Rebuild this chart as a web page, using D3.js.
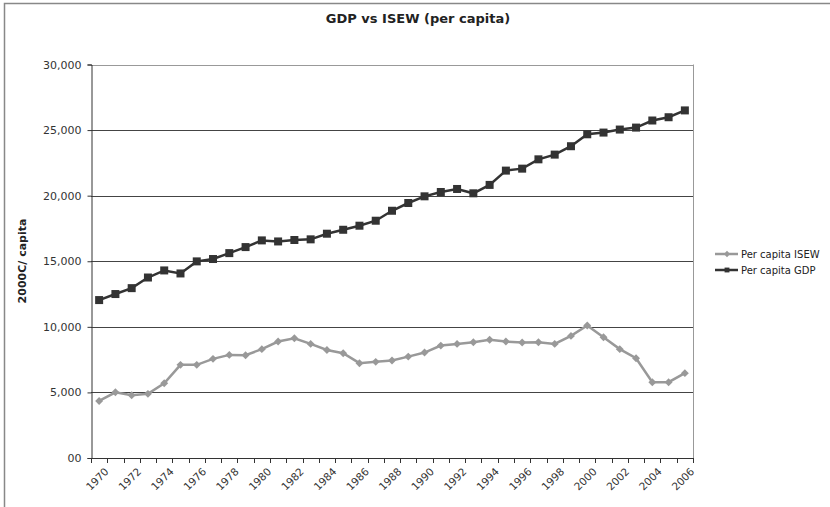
<!DOCTYPE html>
<html>
<head>
<meta charset="utf-8">
<script src="https://cdn.jsdelivr.net/npm/d3@7"></script>
<style>
  body { margin: 0; background: #fff; }
  text { font-family: "DejaVu Sans", Verdana, sans-serif; }
</style>
</head>
<body>
<div id="canvas"></div>
<script>
/*
Years on the category axis */
var years = d3.range(1970, 2007);
/*
Per capita GDP (2000C) */
var gdp = [12040, 12500, 12950, 13760, 14300, 14070, 14990, 15170, 15620, 16080,
           16590, 16510, 16620, 16670, 17100, 17400, 17710, 18090, 18850, 19440,
           19950, 20280, 20510, 20180, 20820, 21910, 22060, 22770, 23130, 23770,
           24680, 24810, 25040, 25190, 25730, 25980, 26500];
/*
Per capita ISEW (2000C) */
var isew = [4350, 5010, 4780, 4890, 5700, 7100, 7100, 7560, 7860, 7840,
            8300, 8880, 9130, 8700, 8240, 7990, 7230, 7330, 7430, 7730,
            8040, 8570, 8700, 8830, 9010, 8880, 8800, 8830, 8700, 9310,
            10100, 9210, 8300, 7610, 5780, 5780, 6470];
var y_ticks = [0, 5000, 10000, 15000, 20000, 25000, 30000];
var y_tick_labels = ["00", "5,000", "10,000", "15,000", "20,000", "25,000", "30,000"];
var series_names = ["Per capita ISEW", "Per capita GDP"];

var chart_w = 830, chart_h = 507;
var plot_left = 91, plot_right = 693, plot_top = 64.5, plot_bottom = 458;

var svg = d3.select("#canvas").append("svg")
    .attr("width", chart_w)
    .attr("height", chart_h);

// outer chart frame
svg.append("rect")
    .attr("x", 4.5).attr("y", 3.5)
    .attr("width", 840).attr("height", 520)
    .attr("fill", "none")
    .attr("stroke", "#888")
    .attr("stroke-width", 1.5);

var x = d3.scaleBand().domain(years).range([plot_left, plot_right]).padding(0);
var y = d3.scaleLinear().domain([0, 30000]).range([plot_bottom, plot_top]);
var cx = function(yr) { return x(yr) + x.bandwidth() / 2; };

// gridlines
svg.append("g").selectAll("line")
    .data(y_ticks.filter(function(d) { return d > 0; }))
    .enter().append("line")
    .attr("x1", plot_left).attr("x2", plot_right)
    .attr("y1", function(d) { return Math.round(y(d)) + 0.5; })
    .attr("y2", function(d) { return Math.round(y(d)) + 0.5; })
    .attr("stroke", function(d) { return d == 30000 ? "#999" : "#444"; })
    .attr("stroke-width", 1);

// plot frame right side
svg.append("line")
    .attr("x1", plot_right + 0.5).attr("x2", plot_right + 0.5)
    .attr("y1", plot_top).attr("y2", plot_bottom)
    .attr("stroke", "#999");

// y axis
var yAxis = d3.axisLeft(y)
    .tickValues(y_ticks)
    .tickSize(4)
    .tickPadding(6)
    .tickFormat(function(d, i) { return y_tick_labels[i]; });
var gy = svg.append("g")
    .attr("transform", "translate(" + (plot_left + 0.5) + ",0)")
    .call(yAxis);
gy.select(".domain").attr("stroke", "#333");
gy.selectAll(".tick line").attr("stroke", "#333");
gy.selectAll("text")
    .attr("font-size", 11)
    .attr("fill", "#333")
    .style("font-family", "DejaVu Sans, Verdana, sans-serif");

// x axis: ticks at category boundaries
var xa = svg.append("g");
xa.append("line")
    .attr("x1", plot_left).attr("x2", plot_right + 0.5)
    .attr("y1", plot_bottom + 0.5).attr("y2", plot_bottom + 0.5)
    .attr("stroke", "#333");
xa.selectAll(".xt")
    .data(years.concat([2007]))
    .enter().append("line")
    .attr("class", "xt")
    .attr("x1", function(d, i) { return Math.round(plot_left + i * x.bandwidth()) + 0.5; })
    .attr("x2", function(d, i) { return Math.round(plot_left + i * x.bandwidth()) + 0.5; })
    .attr("y1", plot_bottom).attr("y2", plot_bottom + 5)
    .attr("stroke", "#333");
xa.selectAll(".xl")
    .data(years.filter(function(d) { return d % 2 == 0; }))
    .enter().append("text")
    .attr("class", "xl")
    .attr("text-anchor", "end")
    .attr("font-size", 10.5)
    .attr("fill", "#333")
    .attr("transform", function(d) {
        return "translate(" + (cx(d) + 5) + "," + (plot_bottom + 9) + ") rotate(-45)";
    })
    .attr("dy", "0.7em")
    .text(function(d) { return d; });

// lines
var line = function(vals) {
    return d3.line()
        .x(function(d, i) { return cx(years[i]); })
        .y(function(d) { return y(d); })(vals);
};

svg.append("path")
    .attr("d", line(isew))
    .attr("fill", "none")
    .attr("stroke", "#999")
    .attr("stroke-width", 2.5);
svg.append("g").selectAll("path")
    .data(isew).enter().append("path")
    .attr("d", d3.symbol().type(d3.symbolDiamond2).size(40))
    .attr("transform", function(d, i) { return "translate(" + cx(years[i]) + "," + y(d) + ")"; })
    .attr("fill", "#999");

svg.append("path")
    .attr("d", line(gdp))
    .attr("fill", "none")
    .attr("stroke", "#333")
    .attr("stroke-width", 2.5);
svg.append("g").selectAll("rect")
    .data(gdp).enter().append("rect")
    .attr("x", function(d, i) { return cx(years[i]) - 4; })
    .attr("y", function(d) { return y(d) - 4; })
    .attr("width", 8).attr("height", 8)
    .attr("fill", "#333");

// title
svg.append("text")
    .attr("x", 418).attr("y", 23)
    .attr("text-anchor", "middle")
    .attr("font-size", 13)
    .attr("font-weight", "bold")
    .attr("fill", "#222")
    .text("GDP vs ISEW (per capita)");

// y title
svg.append("text")
    .attr("transform", "translate(26,261) rotate(-90)")
    .attr("text-anchor", "middle")
    .attr("font-size", 11)
    .attr("font-weight", "bold")
    .attr("fill", "#222")
    .text("2000C/ capita");

// legend
var legend_colors = ["#999", "#333"];
var lg = svg.append("g").selectAll("g")
    .data(series_names).enter().append("g")
    .attr("transform", function(d, i) { return "translate(715," + (254 + i * 16) + ")"; });
lg.append("line")
    .attr("x1", 0).attr("x2", 23)
    .attr("stroke", function(d, i) { return legend_colors[i]; })
    .attr("stroke-width", 2.5);
lg.append("path")
    .attr("d", function(d, i) {
        return d3.symbol().type(i == 0 ? d3.symbolDiamond2 : d3.symbolSquare2).size(i == 0 ? 25 : 30)();
    })
    .attr("transform", "translate(12,0)")
    .attr("fill", function(d, i) { return legend_colors[i]; });
lg.append("text")
    .attr("x", 26).attr("dy", "0.35em")
    .attr("font-size", 10)
    .attr("fill", "#222")
    .text(function(d) { return d; });
</script>
</body>
</html>
